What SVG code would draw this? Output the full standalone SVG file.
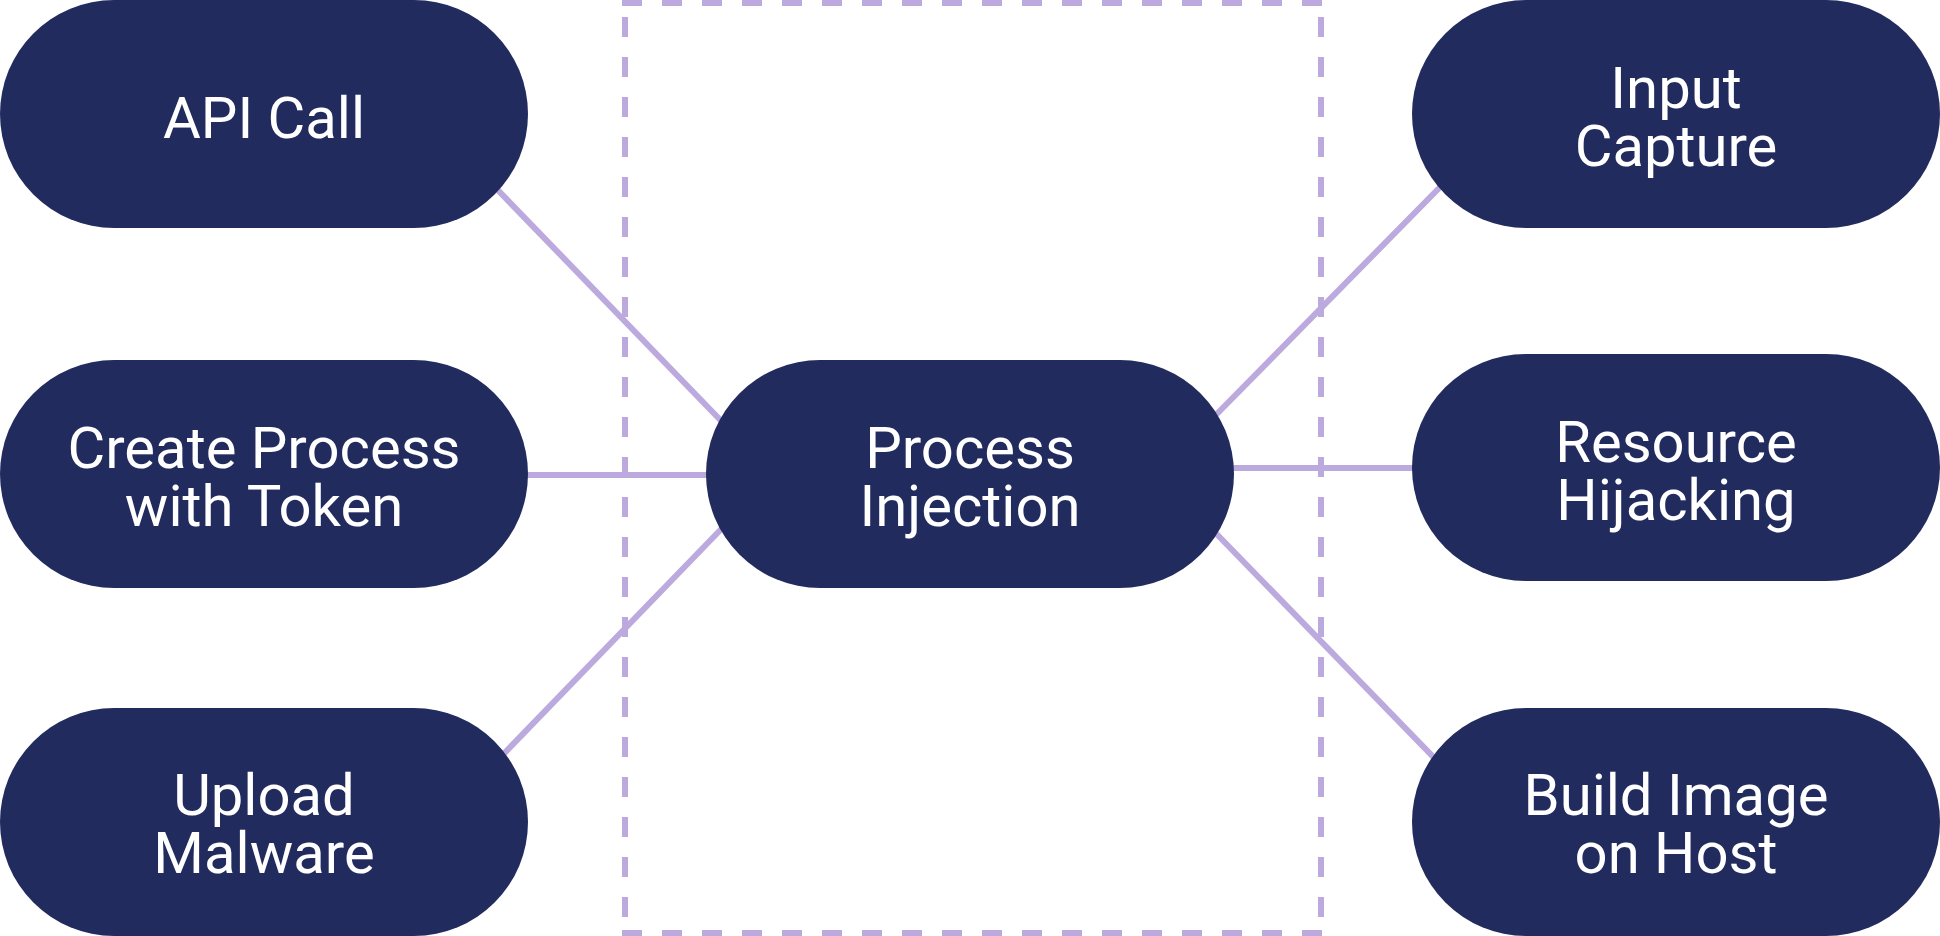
<svg xmlns="http://www.w3.org/2000/svg" width="1940" height="936" viewBox="0 0 1940 936">
<style>
.node rect{fill:#222b5e}
.node text{fill:#ffffff;font-family:Roboto,"Liberation Sans",sans-serif;font-size:58px;text-anchor:middle}
.edge{stroke:#bca9dd;stroke-width:6;fill:none}
.frame{stroke:#bca9dd;stroke-width:6;fill:none;stroke-dasharray:20 20}
</style>
<rect width="1940" height="936" fill="#ffffff"/>
<g id="frame">
<line class="frame" x1="622" y1="3" x2="1322" y2="3"/>
<line class="frame" x1="622" y1="933" x2="1322" y2="933"/>
<line class="frame" x1="625" y1="17" x2="625" y2="917"/>
<line class="frame" x1="1321" y1="17" x2="1321" y2="917"/>
</g>
<g id="connectors">
<line class="edge" x1="490" y1="182" x2="730" y2="430"/>
<line class="edge" x1="500" y1="475" x2="720" y2="475"/>
<line class="edge" x1="490" y1="768" x2="730" y2="520"/>
<line class="edge" x1="1205" y1="426" x2="1450" y2="177"/>
<line class="edge" x1="1225" y1="468" x2="1420" y2="468"/>
<line class="edge" x1="1205" y1="522" x2="1445" y2="769"/>
</g>
<g id="api-call" class="node">
<rect x="0" y="0" width="528" height="228" rx="114" ry="114"/>
<text x="264" y="138">API Call</text>
</g>
<g id="create-process" class="node">
<rect x="0" y="360" width="528" height="228" rx="114" ry="114"/>
<text x="264" y="468">Create Process</text>
<text x="264" y="526">with Token</text>
</g>
<g id="upload-malware" class="node">
<rect x="0" y="708" width="528" height="228" rx="114" ry="114"/>
<text x="264" y="815">Upload</text>
<text x="264" y="873">Malware</text>
</g>
<g id="process-injection" class="node">
<rect x="706" y="360" width="528" height="228" rx="114" ry="114"/>
<text x="970" y="468">Process</text>
<text x="970" y="526">Injection</text>
</g>
<g id="input-capture" class="node">
<rect x="1412" y="0" width="528" height="228" rx="114" ry="114"/>
<text x="1676" y="108">Input</text>
<text x="1676" y="166">Capture</text>
</g>
<g id="resource-hijacking" class="node">
<rect x="1412" y="354" width="528" height="227" rx="113.5" ry="113.5"/>
<text x="1676" y="462">Resource</text>
<text x="1676" y="520">Hijacking</text>
</g>
<g id="build-image" class="node">
<rect x="1412" y="708" width="528" height="228" rx="114" ry="114"/>
<text x="1676" y="815">Build Image</text>
<text x="1676" y="873">on Host</text>
</g>
</svg>
